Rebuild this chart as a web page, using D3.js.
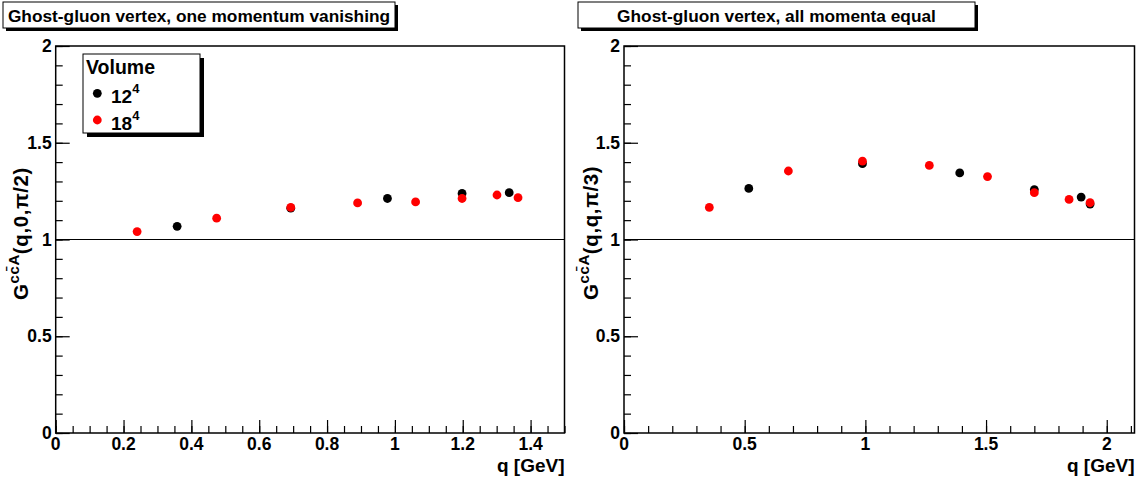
<!DOCTYPE html>
<html><head><meta charset="utf-8">
<script src="https://cdn.jsdelivr.net/npm/d3@7"></script>
<style>
body{margin:0;background:#fff;}
text{font-family:"Liberation Sans",Arial,Helvetica,sans-serif;font-weight:bold;fill:#000;}
</style></head>
<body><svg id="c" width="1145" height="481"></svg>
<script>
// ---- data ----
const titles = ["Ghost-gluon vertex, one momentum vanishing", "Ghost-gluon vertex, all momenta equal"];
const yTitles = ["(q,0,\u03c0/2)", "(q,q,\u03c0/3)"];
const xTitle = "q [GeV]";
const legendTitle = "Volume";
const seriesNames = ["12", "18"];
const seriesColors = ["#000000", "#ff0000"];
// left panel: one momentum vanishing
const left12x = [0.358, 0.693, 0.978, 1.198, 1.337];
const left12y = [1.068, 1.162, 1.212, 1.238, 1.242];
const left18x = [0.240, 0.4745, 0.693, 0.890, 1.061, 1.198, 1.301, 1.363];
const left18y = [1.041, 1.110, 1.166, 1.189, 1.194, 1.212, 1.230, 1.216];
// right panel: all momenta equal
const right12x = [0.517, 0.988, 1.391, 1.700, 1.894, 1.931];
const right12y = [1.264, 1.392, 1.344, 1.258, 1.219, 1.183];
const right18x = [0.3535, 0.681, 0.988, 1.265, 1.506, 1.700, 1.844, 1.931];
const right18y = [1.166, 1.354, 1.405, 1.383, 1.325, 1.242, 1.207, 1.190];
const yTicks = [0, 0.5, 1, 1.5, 2];
const leftXTicks = [0, 0.2, 0.4, 0.6, 0.8, 1, 1.2, 1.4];
const rightXTicks = [0, 0.5, 1, 1.5, 2];

const svg = d3.select("#c");

function panel(cfg){
  const x = d3.scaleLinear().domain(cfg.xdom).range([cfg.x0, cfg.x1]);
  const y = d3.scaleLinear().domain([0,2]).range([433,46]);
  const g = svg.append("g");
  // title box
  const tb = cfg.tbox;
  g.append("rect").attr("x",tb[0]+3).attr("y",tb[1]+3).attr("width",tb[2]).attr("height",tb[3]).attr("fill","#000");
  g.append("rect").attr("x",tb[0]).attr("y",tb[1]).attr("width",tb[2]).attr("height",tb[3]).attr("fill","#fff").attr("stroke","#000").attr("stroke-width",1);
  g.append("text").attr("x",tb[0]+tb[2]/2).attr("y",tb[1]+19.5).attr("text-anchor","middle").style("font-size","17.3px").text(cfg.title);

  // frame
  g.append("rect").attr("x",x.range()[0]).attr("y",y(2)).attr("width",x.range()[1]-x.range()[0]).attr("height",y(0)-y(2))
    .attr("fill","none").attr("stroke","#000").attr("stroke-width",1.5);

  // y axis ticks (inward)
  const ya = d3.axisRight(y).tickValues(yTicks).tickSize(14).tickFormat("");
  g.append("g").attr("transform",`translate(${x.range()[0]},0)`).call(ya);
  const ym = d3.axisRight(y).tickValues(d3.range(0,2.0001,0.1)).tickSize(7).tickFormat("");
  g.append("g").attr("transform",`translate(${x.range()[0]},0)`).call(ym);
  yTicks.forEach(v=>{
    g.append("text").attr("x",x.range()[0]-4).attr("y",y(v)+6).attr("text-anchor","end").style("font-size","17.5px").text(d3.format("")(v));
  });
  // x axis ticks (inward)
  const xa = d3.axisTop(x).tickValues(cfg.xticks).tickSize(13).tickFormat("");
  g.append("g").attr("transform",`translate(0,${y(0)})`).call(xa);
  const xm = d3.axisTop(x).tickValues(d3.range(0,cfg.xdom[1]+1e-9,cfg.minor)).tickSize(7).tickFormat("");
  g.append("g").attr("transform",`translate(0,${y(0)})`).call(xm);
  cfg.xticks.forEach(v=>{
    g.append("text").attr("x",x(v)).attr("y",y(0)+17).attr("text-anchor","middle").style("font-size","17.5px").text(d3.format("")(v));
  });
  g.selectAll(".domain").remove();
  g.selectAll(".tick line").attr("stroke","#000").attr("stroke-width",1.2);

  // x title
  g.append("text").attr("x",x.range()[1]).attr("y",472).attr("text-anchor","end").style("font-size","19px").text(xTitle);
  // y title
  const yt = g.append("text").attr("transform",`translate(${cfg.ytx},300) rotate(-90)`).attr("text-anchor","start")
    .style("font-size","20.5px").style("letter-spacing","0.6px");
  yt.append("tspan").text("G");
  yt.append("tspan").attr("dy",-9).style("font-size","15px").text("cc\u0304A");
  yt.append("tspan").attr("dy",9).text(cfg.ytitle);

  // line at 1
  g.append("line").attr("x1",x.range()[0]).attr("x2",x.range()[1]).attr("y1",y(1)).attr("y2",y(1)).attr("stroke","#000").attr("stroke-width",1.2);

  // points
  const s12 = cfg.x12.map((v,i)=>[v,cfg.y12[i]]);
  const s18 = cfg.x18.map((v,i)=>[v,cfg.y18[i]]);
  [s12,s18].forEach((s,k)=>{
    g.append("g").selectAll("circle").data(s).join("circle")
      .attr("cx",d=>x(d[0])).attr("cy",d=>y(d[1])).attr("r",4.4).attr("fill",seriesColors[k]);
  });
  return g;
}

panel({xdom:[0,1.5], x0:55.7, x1:564.5, xticks:leftXTicks, minor:0.05, title:titles[0], tbox:[3,2,392,26], ytitle:yTitles[0], ytx:28,
  x12:left12x,y12:left12y,x18:left18x,y18:left18y});
panel({xdom:[0,2.115], x0:624, x1:1134.5, xticks:rightXTicks, minor:0.1, title:titles[1], tbox:[578,2,397,26], ytitle:yTitles[1], ytx:598,
  x12:right12x,y12:right12y,x18:right18x,y18:right18y});

// legend
const lg = svg.append("g");
lg.append("rect").attr("x",87).attr("y",58).attr("width",117).attr("height",79).attr("fill","#000");
lg.append("rect").attr("x",83).attr("y",54).attr("width",117).attr("height",79).attr("fill","#fff").attr("stroke","#000").attr("stroke-width",1);
lg.append("text").attr("x",86).attr("y",74).style("font-size","19.5px").text(legendTitle);
seriesNames.forEach((n,i)=>{
  const cy = 93.3 + i*26.7;
  lg.append("circle").attr("cx",97.3).attr("cy",cy).attr("r",4.4).attr("fill",seriesColors[i]);
  const t = lg.append("text").attr("x",111).attr("y",cy+10).style("font-size","19px");
  t.append("tspan").text(n);
  t.append("tspan").attr("dy",-10).style("font-size","13px").text("4");
});
</script></body></html>
